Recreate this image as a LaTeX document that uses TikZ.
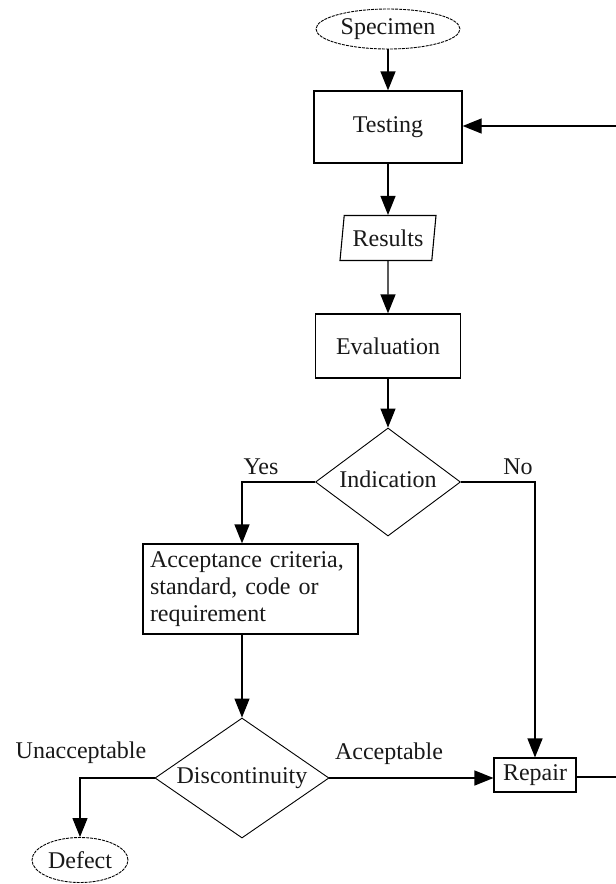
\documentclass[tikz,border=0pt]{standalone}
\usepackage{fontspec}
\setmainfont{Liberation Serif}
\usetikzlibrary{shapes.geometric,arrows.meta}
\begin{document}
\begin{tikzpicture}[x=1pt,y=-1pt,
  font=\fontsize{24}{27}\selectfont,
  every node/.style={inner sep=0pt, text=black!90},
  box/.style={draw, line width=1.3pt, rectangle},
  term/.style={draw, ellipse, line width=0.9pt, dash pattern=on 3pt off 1pt},
  dec/.style={draw, diamond, line width=0.9pt},
  io/.style={draw, trapezium, trapezium left angle=76, trapezium right angle=104, trapezium stretches body, line width=1.1pt},
  lbl/.style={},
  arr/.style={line width=1.3pt, -{Triangle[length=19pt,width=15pt]}},
  ln/.style={line width=1.3pt}
]
\useasboundingbox (0,0) rectangle (616,884);
\fill[white] (0,0) rectangle (616,884);

\node[term, minimum width=144pt, minimum height=40pt] (spec) at (388,29) {Specimen};
\node[box, minimum width=148pt, minimum height=72pt] (test) at (388,127) {Testing};
\node[io, minimum width=96pt, minimum height=45pt] (res) at (388,238) {Results};
\node[box, minimum width=145pt, minimum height=64pt] (eval) at (388,346) {Evaluation};
\node[dec, aspect=1.34, minimum width=145pt, minimum height=108pt] (ind) at (388,482) {\raisebox{6pt}{Indication}};
\node[box, minimum width=215pt, minimum height=90pt, align=left, text width=201pt, inner xsep=7pt] (acc) at (250.5,589)
  {Acceptance criteria,\\standard, code or\\requirement};
\node[dec, aspect=1.45, minimum width=174pt, minimum height=120pt] (disc) at (242,778) {Discontinuity};
\node[box, line width=1.1pt, minimum width=82pt, minimum height=34pt] (rep) at (535,775) {Repair};
\node[term, minimum width=96pt, minimum height=45pt] (def) at (80,860) {Defect};

\node[lbl] (yes) at (261,467) {Yes};
\node[lbl] (no) at (518,467) {No};
\node[lbl] (accl) at (389,754) {Acceptable};
\node[lbl] (unacc) at (81,753) {Unacceptable};

\coordinate (r1) at (616,777);
\coordinate (r2) at (616,126);

\draw[arr] (spec) -- (test);
\draw[arr] (test) -- (res);
\draw[arr] (res) -- (eval);
\draw[arr] (eval) -- (ind);
\draw[arr] (ind.west) -| (disc.north |- acc.north);
\draw[arr] (ind.east) -| (rep.north);
\draw[arr] (disc.north |- acc.south) -- (disc.north);
\draw[arr] (disc.east) -- (disc.east -| rep.west);
\draw[arr] (disc.west) -| (def.north);
\draw[ln] (rep.east |- r1) -- (r1);
\draw[arr] (r2) -- (r2 -| test.east);
\end{tikzpicture}
\end{document}
